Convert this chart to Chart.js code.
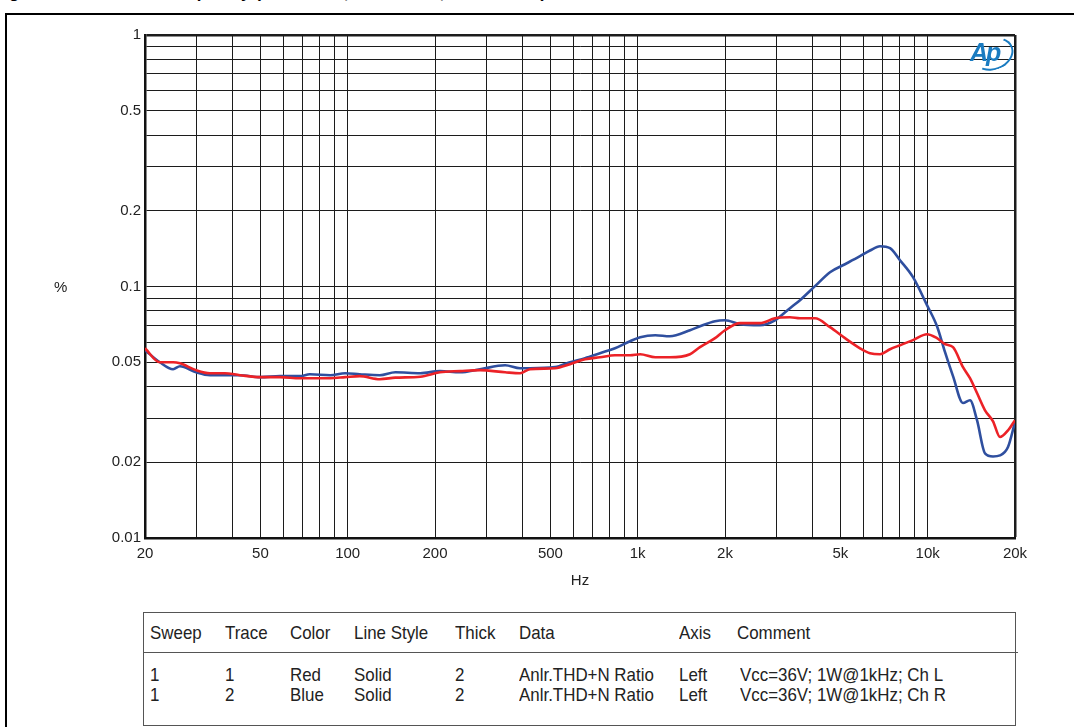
<!DOCTYPE html>
<html>
<head>
<meta charset="utf-8">
<title>THD+N vs. frequency</title>
<script src="https://cdn.jsdelivr.net/npm/chart.js@4.4.1/dist/chart.umd.min.js"></script>
<style>
  body { margin: 0; background: #fff; font-family: "Liberation Sans", Arial, sans-serif; }
  #page { position: relative; width: 1074px; height: 727px; overflow: hidden; }
  #thdChart { position: absolute; left: 0; top: 0; }
  .title { position: absolute; left: -6px; top: -17px; font-weight: bold; font-size: 17px; line-height: 20px; white-space: nowrap; }
  .frame { position: absolute; left: 5px; top: 13px; width: 1100px; height: 800px;
    border-left: 2.5px solid #000; border-top: 2.5px solid #000; }
  .unit { position: absolute; font-size: 15px; color: #222; }
  .logo { position: absolute; left: 968px; top: 37px; width: 46px; height: 32px; }
  .logo span { position: absolute; left: 2px; top: 1px; font: italic bold 25px "Liberation Sans", Arial, sans-serif;
    color: #1b7cc1; letter-spacing: -2px; }
  .logo i { position: absolute; left: 4px; top: 1px; width: 38px; height: 28px; border-radius: 50%;
    border: 2.5px solid transparent; border-right-color: #1b7cc1; border-bottom-color: #1b7cc1; transform: rotate(-20deg); }
  .legend { position: absolute; left: 143px; top: 612px; width: 871px; height: 112px; border: 1px solid #555; }
  .legend .sep { position: absolute; left: 0; top: 39px; width: 874px; border-top: 1px solid #555; }
  .cell { position: absolute; font-size: 19px; color: #222; white-space: nowrap;
    transform: scaleX(0.89); transform-origin: left center; line-height: 20px; }
</style>
</head>
<body>
<div id="page">
  <div class="title">Figure 27. THD+N vs. frequency (Vcc = 36 V, Pout = 1 W, Ch L / Ch R)</div>
  <div class="frame"></div>
  <canvas id="thdChart" width="1074" height="600"></canvas>
  <div class="unit" style="left:54px; top:278px;">%</div>
  <div class="logo"><i></i><span>Ap</span></div>
  <div class="legend" id="legendTable"><div class="sep"></div></div>
</div>

<script>
// Frequencies (Hz) shared by both traces
const freqHz = [
  20, 22.5, 25, 26.4, 30, 33.5, 37.7, 42.5, 50, 58.4,
  68.5, 74, 87, 98, 110, 129, 146, 178, 208, 244,
  286, 349, 393, 425, 519, 584, 658, 741, 835, 941,
  1020, 1150, 1290, 1515, 1640, 1848, 2000, 2253, 2640, 2974,
  3350, 3628, 4087, 4604, 5186, 5843, 6325, 6848, 7414, 8024,
  8898, 9944, 10766, 11476, 12226, 13234, 13990, 14792, 15762, 16798,
  17756, 18920, 20000,
];

// THD+N ratio (%) - trace 1, Ch L (red)
const thdChL = [
  0.0568, 0.05, 0.05, 0.0495, 0.0465, 0.0452, 0.0452, 0.0444, 0.0436, 0.0436,
  0.0432, 0.0432, 0.0432, 0.0436, 0.044, 0.0428, 0.0434, 0.0438, 0.0456, 0.0461,
  0.0465, 0.0456, 0.0452, 0.0469, 0.0473, 0.0491, 0.0514, 0.0523, 0.0533, 0.0533,
  0.0538, 0.0523, 0.0523, 0.0538, 0.0574, 0.0623, 0.067, 0.0715, 0.0715, 0.0748,
  0.0755, 0.0748, 0.0748, 0.0689, 0.0623, 0.0568, 0.0543, 0.0538, 0.0563, 0.0584,
  0.0612, 0.0646, 0.0623, 0.059, 0.0574, 0.0478, 0.0432, 0.0377, 0.0322, 0.0291,
  0.0252, 0.0268, 0.0294,
];

// THD+N ratio (%) - trace 2, Ch R (blue)
const thdChR = [
  0.0558, 0.05, 0.0469, 0.0482, 0.0456, 0.0444, 0.0444, 0.0444, 0.0436, 0.044,
  0.044, 0.0448, 0.0444, 0.0452, 0.0448, 0.0444, 0.0456, 0.0452, 0.0461, 0.0456,
  0.0469, 0.0486, 0.0473, 0.0473, 0.0478, 0.05, 0.0519, 0.0543, 0.0568, 0.0606,
  0.0629, 0.064, 0.0634, 0.067, 0.0695, 0.0728, 0.0734, 0.0708, 0.0702, 0.0734,
  0.082, 0.0882, 0.1003, 0.114, 0.1226, 0.132, 0.139, 0.1445, 0.142, 0.1272,
  0.1089, 0.0843, 0.0695, 0.0548, 0.044, 0.0344, 0.0353, 0.0294, 0.0217, 0.0211,
  0.0213, 0.023, 0.0289,
];

// Grid lines and labelled ticks
const xGridHz = [
  20, 30, 40, 50, 60, 70, 80, 90, 100, 200, 300, 400, 500, 600, 700, 800, 900,
  1000, 2000, 3000, 4000, 5000, 6000, 7000, 8000, 9000, 10000, 20000,
];
const xLabelHz = [20, 50, 100, 200, 500, 1000, 2000, 5000, 10000, 20000];
const xLabelText = ["20", "50", "100", "200", "500", "1k", "2k", "5k", "10k", "20k"];

const yGridPct = [
  0.01, 0.02, 0.03, 0.04, 0.05, 0.06, 0.07, 0.08, 0.09,
  0.1, 0.2, 0.3, 0.4, 0.5, 0.6, 0.7, 0.8, 0.9, 1,
];
const yLabelPct = [0.01, 0.02, 0.05, 0.1, 0.2, 0.5, 1];

// Legend table rows
const tableHeader = ["Sweep", "Trace", "Color", "Line Style", "Thick", "Data", "Axis", "Comment"];
const tableRows = [
  ["1", "1", "Red", "Solid", "2", "Anlr.THD+N Ratio", "Left", "Vcc=36V; 1W@1kHz; Ch L"],
  ["1", "2", "Blue", "Solid", "2", "Anlr.THD+N Ratio", "Left", "Vcc=36V; 1W@1kHz; Ch R"],
];
const tableColX = [6, 81, 146, 210, 311, 375, 535, 593];

document.addEventListener("DOMContentLoaded", function () {
  const fontFamily = '"Liberation Sans", Arial, sans-serif';

  initThdChart();
  initLegendTable();

  function initThdChart() {
    const ctx = document.getElementById("thdChart").getContext("2d");
    new Chart(ctx, {
      type: "line",
      data: {
        datasets: [
          {
            label: "Ch L",
            data: freqHz.map((f, i) => ({ x: f, y: thdChL[i] })),
            borderColor: "#ec2227",
            borderWidth: 2.6,
            pointRadius: 0,
            cubicInterpolationMode: "monotone",
          },
          {
            label: "Ch R",
            data: freqHz.map((f, i) => ({ x: f, y: thdChR[i] })),
            borderColor: "#2f4f9f",
            borderWidth: 2.6,
            pointRadius: 0,
            cubicInterpolationMode: "monotone",
          },
        ],
      },
      options: {
        responsive: false,
        maintainAspectRatio: false,
        animation: false,
        events: [],
        layout: { padding: { top: 35, right: 59, bottom: 0, left: 0 } },
        plugins: {
          legend: { display: false },
          tooltip: { enabled: false },
        },
        scales: {
          x: {
            type: "logarithmic",
            min: 20,
            max: 20000,
            afterBuildTicks: (scale) => {
              scale.ticks = xGridHz.map((v) => ({ value: v }));
            },
            afterFit: (scale) => {
              scale.height = 62;
            },
            grid: {
              color: "#1c1c1c",
              lineWidth: (c) => (c.tick && c.tick.value === 20000 ? 2.5 : 1),
              drawTicks: false,
            },
            border: { color: "#111", width: 2.5 },
            ticks: {
              autoSkip: false,
              maxRotation: 0,
              minRotation: 0,
              padding: 7,
              color: "#222",
              font: { family: fontFamily, size: 15 },
              callback: function (value) {
                const i = xLabelHz.indexOf(value);
                return i >= 0 ? xLabelText[i] : "";
              },
            },
            title: {
              display: true,
              text: "Hz",
              color: "#222",
              font: { family: fontFamily, size: 15 },
              padding: { top: 0, bottom: 10 },
            },
          },
          y: {
            type: "logarithmic",
            min: 0.01,
            max: 1,
            afterBuildTicks: (scale) => {
              scale.ticks = yGridPct.map((v) => ({ value: v }));
            },
            afterFit: (scale) => {
              scale.width = 145;
            },
            grid: {
              color: "#1c1c1c",
              lineWidth: (c) => (c.tick && c.tick.value === 1 ? 2.5 : 1),
              drawTicks: false,
            },
            border: { color: "#111", width: 2.5 },
            ticks: {
              autoSkip: false,
              padding: 4,
              color: "#222",
              font: { family: fontFamily, size: 15 },
              callback: function (value) {
                return yLabelPct.includes(value) ? String(value) : "";
              },
            },
          },
        },
      },
    });
  }

  // Sweep / trace table under the plot
  function initLegendTable() {
    const box = document.getElementById("legendTable");
    const addRow = (cells, top) => {
      cells.forEach((text, i) => {
        const el = document.createElement("div");
        el.className = "cell";
        el.textContent = text;
        el.style.left = tableColX[i] + (i === 7 && top > 30 ? 3 : 0) + "px";
        el.style.top = top + "px";
        box.appendChild(el);
      });
    };
    addRow(tableHeader, 10);
    tableRows.forEach((row, r) => addRow(row, 52 + r * 20));
  }
});
</script>
</body>
</html>
